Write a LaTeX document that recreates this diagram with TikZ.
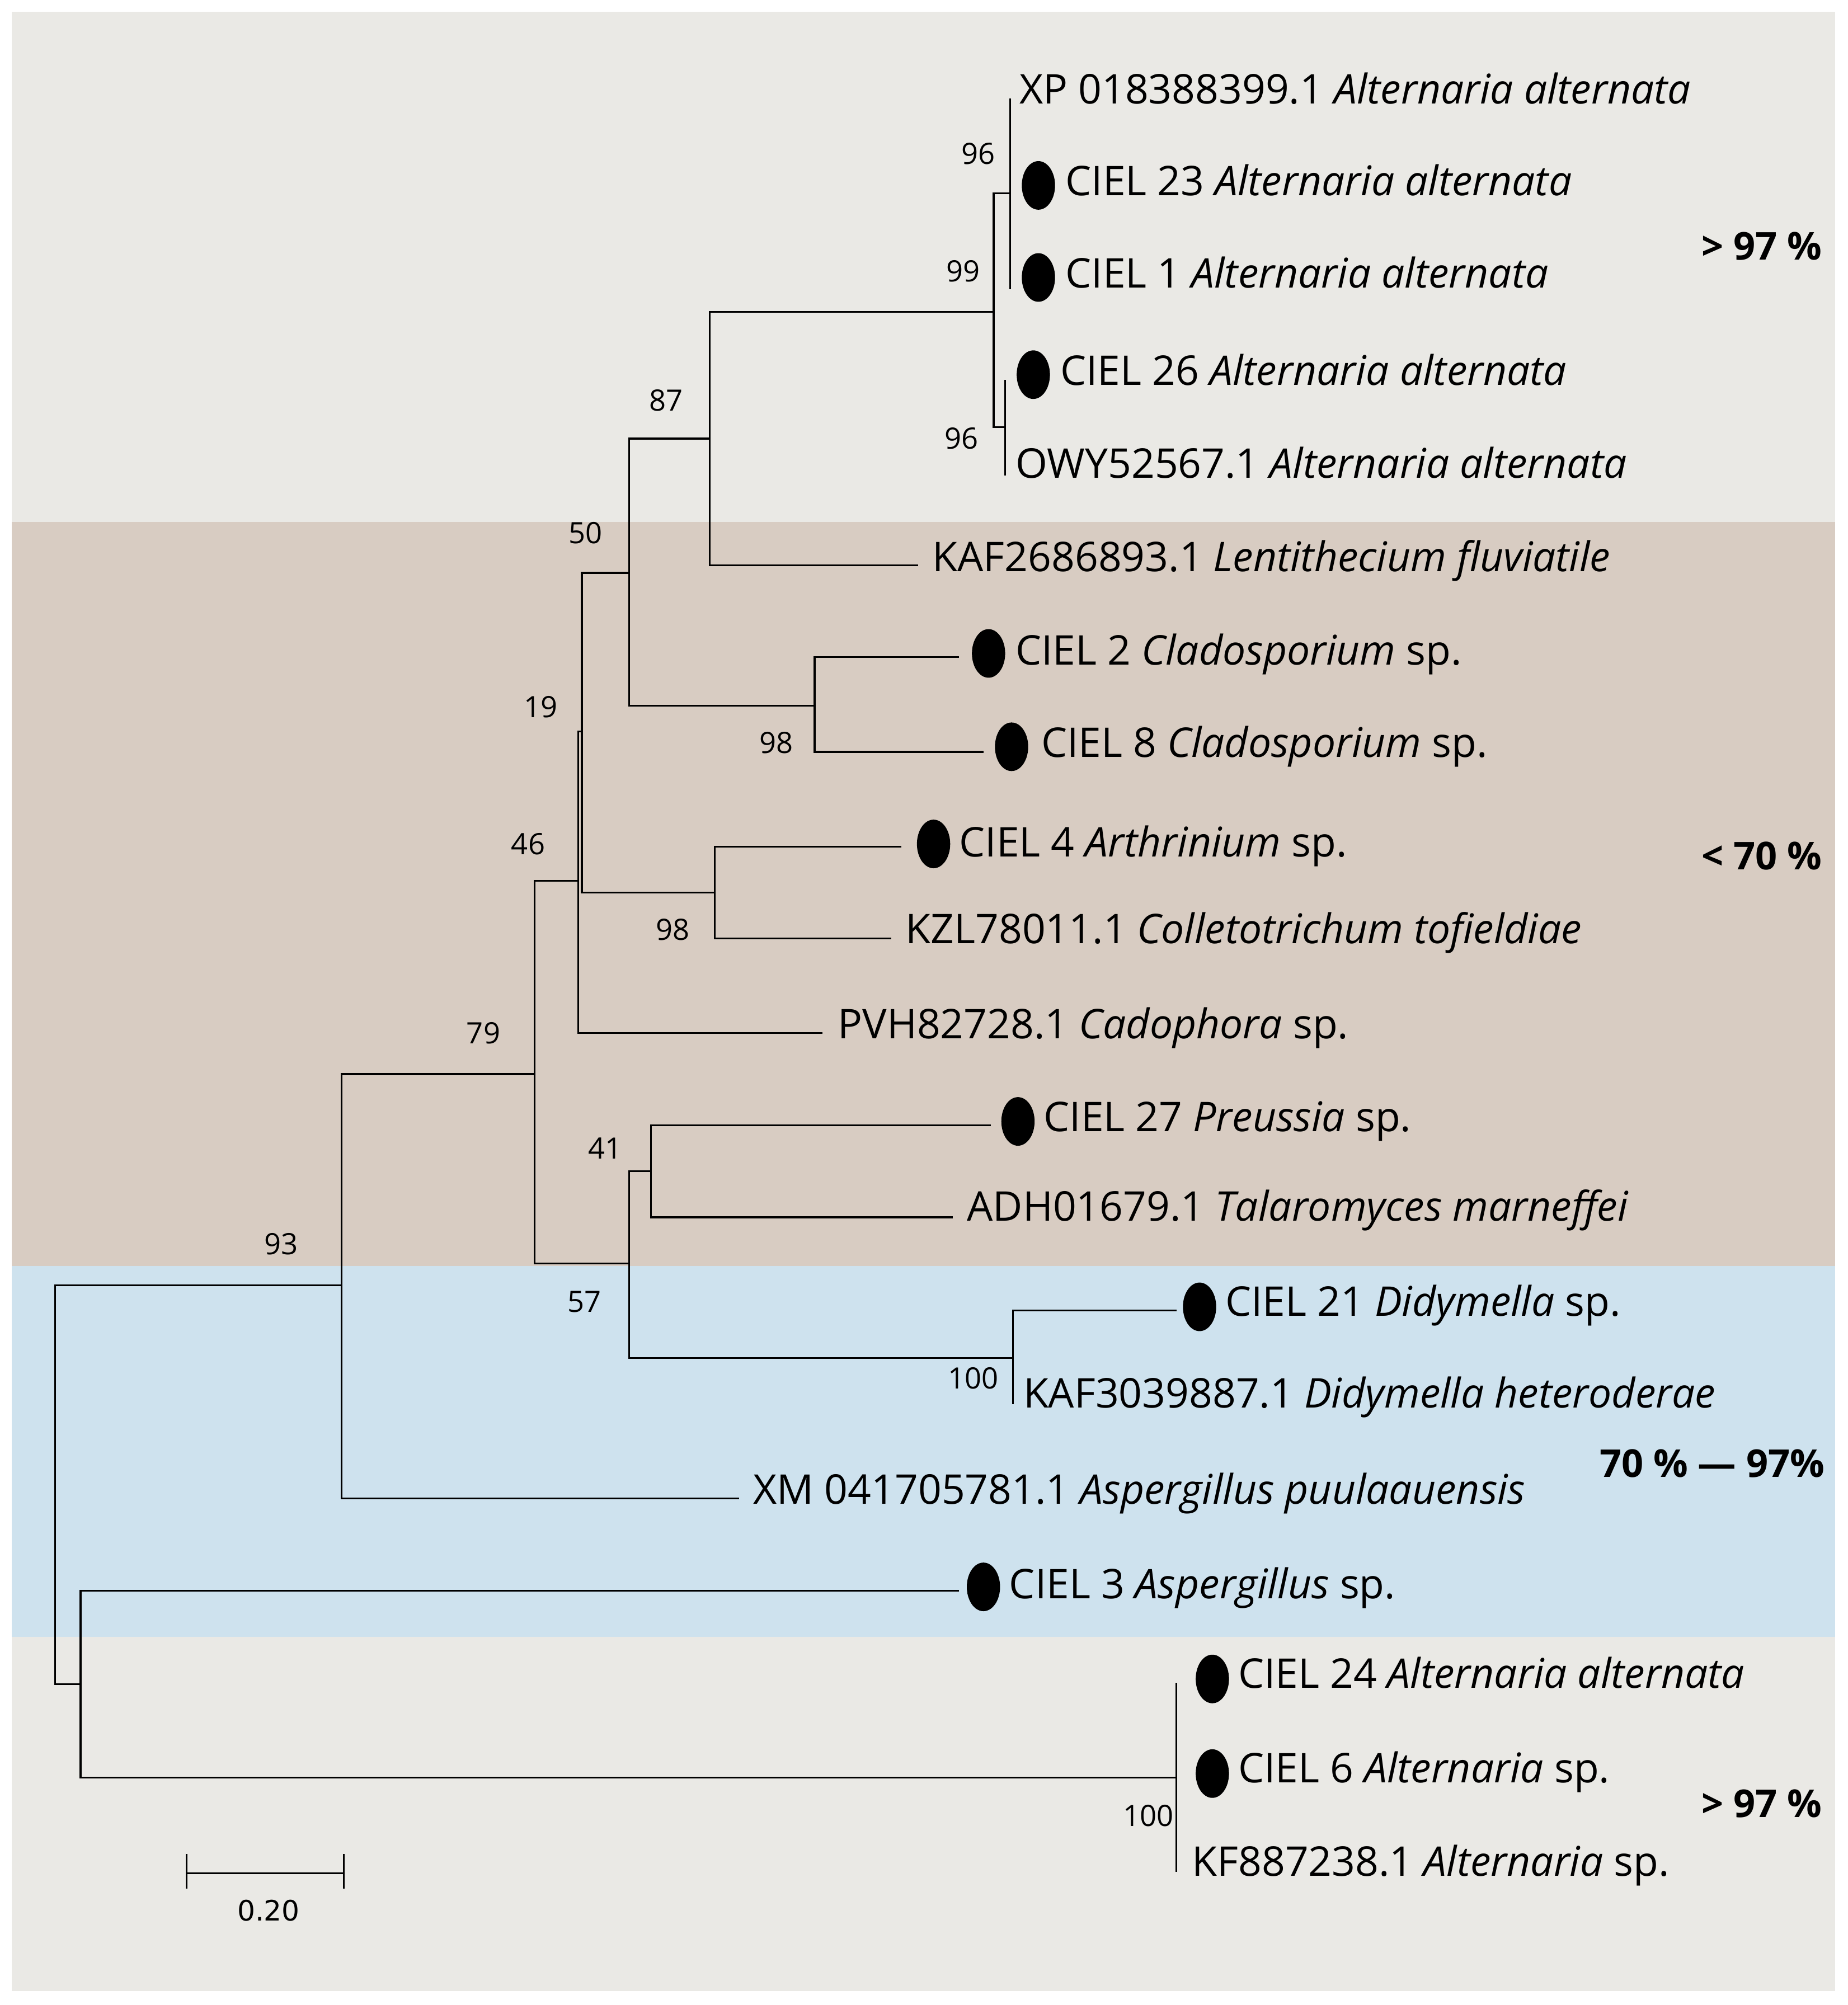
\documentclass[tikz,border=0pt]{standalone}
\usepackage{fontspec}
\setmainfont{Open Sans}
\newfontfamily\barfont{DejaVu Sans}
\usetikzlibrary{shapes.geometric}
\definecolor{bggrey}{HTML}{EAE9E5}
\definecolor{bgbrown}{HTML}{D8CCC2}
\definecolor{bgblue}{HTML}{CEE2EE}
\begin{document}
\begin{tikzpicture}[x=1pt,y=-1pt,
  branch/.style={line width=1.4pt, black},
  leaf/.style={anchor=base west, inner sep=0pt, font=\fontsize{32}{36}\selectfont},
  boot/.style={inner sep=0pt, font=\fontsize{23}{27}\selectfont},
  grp/.style={anchor=base east, inner sep=0pt, font=\fontsize{30}{34}\selectfont\bfseries},
  isodot/.style={ellipse, fill=black, draw=none, minimum width=26pt, minimum height=38pt, inner sep=0pt}]
\useasboundingbox (0,0) rectangle (1445,1568);
\fill[white] (0,0) rectangle (1445,1568);
\fill[bggrey] (9,9) rectangle (1435,408);
\fill[bgbrown] (9,408) rectangle (1435,990);
\fill[bgblue] (9,990) rectangle (1435,1280);
\fill[bggrey] (9,1280) rectangle (1435,1557);

% internal nodes
\coordinate (root) at (43,1161);
\coordinate (n93) at (267,1005);
\coordinate (n79) at (418,840);
\coordinate (n46) at (452,689);
\coordinate (n19) at (455,572);
\coordinate (n50) at (492,448);
\coordinate (n87) at (555,343);
\coordinate (n99) at (777,244);
\coordinate (n96a) at (790,151);
\coordinate (n96b) at (786,334);
\coordinate (n98a) at (637,552);
\coordinate (n98b) at (559,698);
\coordinate (n57) at (492,988);
\coordinate (n41) at (509,916);
\coordinate (n100a) at (792,1062);
\coordinate (n63) at (63,1317);
\coordinate (n100b) at (920,1390);

% leaf ends
\coordinate (lXP) at (790,77);
\coordinate (lC23) at (790,149);
\coordinate (lC1) at (790,226);
\coordinate (lC26) at (786,297);
\coordinate (lOWY) at (786,372);
\coordinate (lKAF) at (718,442);
\coordinate (lC2) at (750,514);
\coordinate (lC8) at (769,588);
\coordinate (lC4) at (705,662);
\coordinate (lKZL) at (697,734);
\coordinate (lPVH) at (643,808);
\coordinate (lC27) at (775,880);
\coordinate (lADH) at (745,952);
\coordinate (lC21) at (920,1025);
\coordinate (lKAF3) at (792,1098);
\coordinate (lXM) at (578,1172);
\coordinate (lC3) at (750,1244);
\coordinate (lC24) at (920,1316);
\coordinate (lC6) at (920,1390);
\coordinate (lKF) at (920,1464);

% branches
\draw[branch] (root) |- (n93);
\draw[branch] (root) |- (n63);
\draw[branch] (n93) |- (n79);
\draw[branch] (n93) |- (lXM);
\draw[branch] (n79) |- (n46);
\draw[branch] (n79) |- (n57);
\draw[branch] (n46) |- (n19);
\draw[branch] (n46) |- (lPVH);
\draw[branch] (n19) |- (n50);
\draw[branch] (n19) |- (n98b);
\draw[branch] (n50) |- (n87);
\draw[branch] (n50) |- (n98a);
\draw[branch] (n87) |- (n99);
\draw[branch] (n87) |- (lKAF);
\draw[branch] (n99) |- (n96a);
\draw[branch] (n99) |- (n96b);
\draw[branch] (n96a) |- (lXP);
\draw[branch] (n96a) |- (lC1);
\draw[branch] (n96b) |- (lC26);
\draw[branch] (n96b) |- (lOWY);
\draw[branch] (n98a) |- (lC2);
\draw[branch] (n98a) |- (lC8);
\draw[branch] (n98b) |- (lC4);
\draw[branch] (n98b) |- (lKZL);
\draw[branch] (n57) |- (n41);
\draw[branch] (n57) |- (n100a);
\draw[branch] (n41) |- (lC27);
\draw[branch] (n41) |- (lADH);
\draw[branch] (n100a) |- (lC21);
\draw[branch] (n100a) |- (lKAF3);
\draw[branch] (n63) |- (lC3);
\draw[branch] (n63) |- (n100b);
\draw[branch] (n100b) |- (lC24);
\draw[branch] (n100b) |- (lKF);

% bootstrap values
\node[boot] (b96a) at (765,120) {96};
\node[boot] (b99) at (753,212) {99};
\node[boot] (b96b) at (752,343) {96};
\node[boot] (b87) at (521,313) {87};
\node[boot] (b50) at (458,417) {50};
\node[boot] (b19) at (423,553) {19};
\node[boot] (b98a) at (607,581) {98};
\node[boot] (b46) at (413,660) {46};
\node[boot] (b98b) at (526,727) {98};
\node[boot] (b79) at (378,808) {79};
\node[boot] (b41) at (473,898) {41};
\node[boot] (b93) at (220,973) {93};
\node[boot] (b57) at (457,1018) {57};
\node[boot] (b100a) at (761,1078) {100};
\node[boot] (b100b) at (898,1420) {100};

% dots
\node[isodot] (d23) at (812,145) {};
\node[isodot] (d1) at (812,217) {};
\node[isodot] (d26) at (808,293) {};
\node[isodot] (d2) at (773,511) {};
\node[isodot] (d8) at (791,584) {};
\node[isodot] (d4) at (730,660) {};
\node[isodot] (d27) at (796,877) {};
\node[isodot] (d21) at (938,1022) {};
\node[isodot] (d3) at (769,1241) {};
\node[isodot] (d24) at (948,1313) {};
\node[isodot] (d6) at (948,1387) {};

% leaf labels
\node[leaf] (tXP) at (797,81) {XP 018388399.1 \textit{Alternaria alternata}};
\node[leaf] (tC23) at (833,153) {CIEL 23 \textit{Alternaria alternata}};
\node[leaf] (tC1) at (833,225) {CIEL 1 \textit{Alternaria alternata}};
\node[leaf] (tC26) at (829,301) {CIEL 26 \textit{Alternaria alternata}};
\node[leaf] (tOWY) at (794,374) {OWY52567.1 \textit{Alternaria alternata}};
\node[leaf] (tKAF) at (729,447) {KAF2686893.1 \textit{Lentithecium fluviatile}};
\node[leaf] (tC2) at (794,520) {CIEL 2 \textit{Cladosporium} sp.};
\node[leaf] (tC8) at (814,592) {CIEL 8 \textit{Cladosporium} sp.};
\node[leaf] (tC4) at (750,670) {CIEL 4 \textit{Arthrinium} sp.};
\node[leaf] (tKZL) at (708,738) {KZL78011.1 \textit{Colletotrichum tofieldiae}};
\node[leaf] (tPVH) at (655,812) {PVH82728.1 \textit{Cadophora} sp.};
\node[leaf] (tC27) at (816,885) {CIEL 27 \textit{Preussia} sp.};
\node[leaf] (tADH) at (756,955) {ADH01679.1 \textit{Talaromyces marneffei}};
\node[leaf] (tC21) at (958,1029) {CIEL 21 \textit{Didymella} sp.};
\node[leaf] (tKAF3) at (800,1101) {KAF3039887.1 \textit{Didymella heteroderae}};
\node[leaf] (tXM) at (589,1176) {XM 041705781.1 \textit{Aspergillus puulaauensis}};
\node[leaf] (tC3) at (789,1250) {CIEL 3 \textit{Aspergillus} sp.};
\node[leaf] (tC24) at (968,1320) {CIEL 24 \textit{Alternaria alternata}};
\node[leaf] (tC6) at (968,1394) {CIEL 6 \textit{Alternaria} sp.};
\node[leaf] (tKF) at (932,1467) {KF887238.1 \textit{Alternaria} sp.};

% group labels
\node[grp] (g1) at (1425,203) {> 97 \%};
\node[grp] (g2) at (1425,680) {< 70 \%};
\node[grp] (g3) at (1427,1155) {70 \% — 97\%};
\node[grp] (g4) at (1425,1421) {> 97 \%};

% scale bar
\coordinate (sbA) at (146,1465);
\coordinate (sbB) at (269,1465);
\draw[branch] (sbA) -- (sbB);
\draw[branch] ([yshift=-12pt]sbA) -- ([yshift=15pt]sbA);
\draw[branch] ([yshift=-12pt]sbB) -- ([yshift=15pt]sbB);
\node[inner sep=0pt, font=\barfont\fontsize{22}{26}\selectfont] (sbl) at (210,1494) {0.20};
\end{tikzpicture}
\end{document}
